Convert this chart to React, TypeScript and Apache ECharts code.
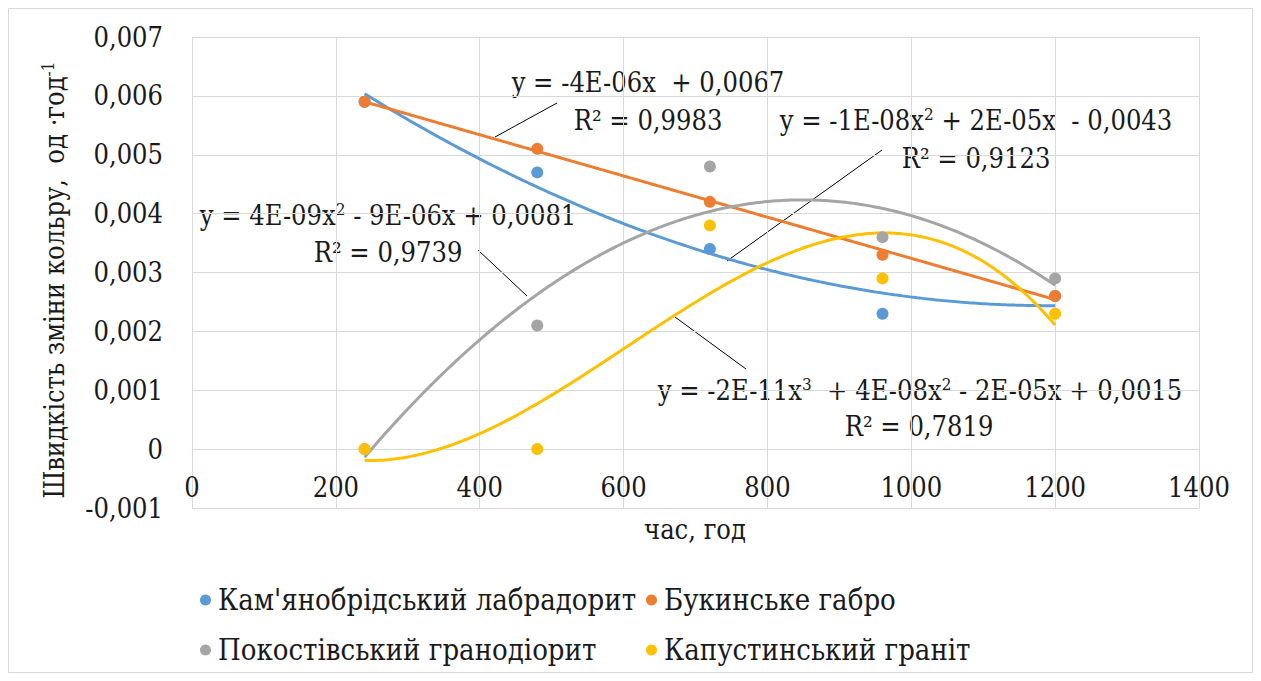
import React, { useEffect, useRef } from "react";
import * as echarts from "echarts";

// Exposure time, hours
const hours = [240, 480, 720, 960, 1200];

// Colour change rate, units per hour
const labradorite = [0.0059, 0.0047, 0.0034, 0.0023, 0.0026];
const gabbro = [0.0059, 0.0051, 0.0042, 0.0033, 0.0026];
const granodiorite = [0.0, 0.0021, 0.0048, 0.0036, 0.0029];
const granite = [0.0, 0.0, 0.0038, 0.0029, 0.0023];

const seriesNames = [
  "Кам'янобрідський лабрадорит",
  "Букинське габро",
  "Покостівський гранодіорит",
  "Капустинський граніт",
];
const seriesValues = [labradorite, gabbro, granodiorite, granite];
const seriesColors = ["#5B9BD5", "#ED7D31", "#A5A5A5", "#FFC000"];
// Polynomial order of each trendline
const trendOrders = [2, 1, 2, 3];

const xMin = 0;
const xMax = 1400;
const xStep = 200;
const yMin = -0.001;
const yMax = 0.007;
const yStep = 0.001;

const FONT = "DejaVu Serif Condensed, DejaVu Serif";
const FS = 27;
const FS_LEGEND = 29;
const INK = "#1a1a1a";

const GRID = { left: 192, right: 62, top: 37, bottom: 173 };
const CHART_H = 681;

// Least-squares polynomial fit; returns coefficients in powers of u = x / 1000
function polyFit(xs: number[], ys: number[], order: number): number[] {
  const n = order + 1;
  const A: number[][] = [];
  for (let r = 0; r < n; r++) {
    const row: number[] = [];
    for (let c = 0; c < n; c++) {
      let s = 0;
      xs.forEach((x) => (s += Math.pow(x / 1000, r + c)));
      row.push(s);
    }
    let b = 0;
    xs.forEach((x, i) => (b += ys[i] * Math.pow(x / 1000, r)));
    row.push(b);
    A.push(row);
  }
  for (let col = 0; col < n; col++) {
    let piv = col;
    for (let r = col + 1; r < n; r++) if (Math.abs(A[r][col]) > Math.abs(A[piv][col])) piv = r;
    [A[col], A[piv]] = [A[piv], A[col]];
    for (let r = 0; r < n; r++) {
      if (r === col) continue;
      const f = A[r][col] / A[col][col];
      for (let c = col; c <= n; c++) A[r][c] -= f * A[col][c];
    }
  }
  return A.map((row, i) => row[n] / row[i]);
}

function trendPoints(xs: number[], ys: number[], order: number): number[][] {
  const coef = polyFit(xs, ys, order);
  const pts: number[][] = [];
  const from = xs[0];
  const to = xs[xs.length - 1];
  for (let x = from; x <= to + 1e-9; x += 4) {
    const u = x / 1000;
    let y = 0;
    coef.forEach((c, k) => (y += c * Math.pow(u, k)));
    pts.push([x, y]);
  }
  return pts;
}

function fmtY(v: number): string {
  if (Math.abs(v) < 1e-12) return "0";
  return v.toFixed(3).replace(".", ",");
}

function fmtX(v: number): string {
  return String(Math.round(v));
}

const baseRich = {
  b: { fontSize: FS, fontFamily: FONT, fill: INK, lineHeight: 30 },
  sup: { fontSize: 17, fontFamily: FONT, fill: INK, verticalAlign: "top" as const, lineHeight: 30 },
};

function label(text: string, x: number, y: number) {
  return {
    type: "text",
    x,
    y,
    silent: true,
    style: {
      text,
      rich: baseRich,
      fontSize: FS,
      fontFamily: FONT,
      fill: INK,
      align: "center",
      verticalAlign: "middle",
    },
  };
}

function leader(x1: number, y1: number, x2: number, y2: number) {
  return {
    type: "line",
    silent: true,
    shape: { x1, y1, x2, y2 },
    style: { stroke: "#000000", lineWidth: 1 },
  };
}

export default function App() {
  const ref = useRef<HTMLDivElement>(null);

  useEffect(() => {
    if (!ref.current) return;
    const chart = echarts.init(ref.current, undefined, { renderer: "svg" });

    // The horizontal axis crosses the vertical one at zero
    const plotH = CHART_H - GRID.top - GRID.bottom;
    const zeroFromBottom = ((0 - yMin) / (yMax - yMin)) * plotH;

    const trendSeries = seriesValues.map((vals, i) => ({
      name: seriesNames[i] + " — тренд",
      type: "line",
      data: trendPoints(hours, vals, trendOrders[i]),
      showSymbol: false,
      smooth: false,
      silent: true,
      z: 2,
      lineStyle: { color: seriesColors[i], width: 3 },
      itemStyle: { color: seriesColors[i] },
    }));

    const pointSeries = seriesValues.map((vals, i) => ({
      name: seriesNames[i],
      type: "scatter",
      data: hours.map((h, k) => [h, vals[k]]),
      symbol: "circle",
      symbolSize: 12,
      z: 3,
      itemStyle: { color: seriesColors[i], opacity: 1 },
    }));

    const legendCommon = {
      orient: "vertical",
      top: 585,
      padding: 0,
      itemGap: 20,
      itemWidth: 11,
      itemHeight: 11,
      icon: "circle",
      textStyle: {
        fontSize: FS_LEGEND,
        fontFamily: FONT,
        color: INK,
        lineHeight: 30,
        padding: [0, 0, 0, 2],
      },
    };

    chart.setOption({
      animation: false,
      backgroundColor: "#ffffff",
      grid: { ...GRID, containLabel: false },
      xAxis: {
        type: "value",
        min: xMin,
        max: xMax,
        interval: xStep,
        offset: -zeroFromBottom,
        axisLine: { show: true, onZero: false, lineStyle: { color: "#d9d9d9", width: 1 } },
        axisTick: { show: false },
        axisLabel: { fontSize: FS, fontFamily: FONT, color: INK, margin: 25, formatter: fmtX },
        splitLine: { show: true, lineStyle: { color: "#d9d9d9", width: 1 } },
      },
      yAxis: {
        type: "value",
        min: yMin,
        max: yMax,
        interval: yStep,
        axisLine: { show: false },
        axisTick: { show: false },
        axisLabel: { fontSize: FS, fontFamily: FONT, color: INK, margin: 29, formatter: fmtY },
        splitLine: { show: true, lineStyle: { color: "#d9d9d9", width: 1 } },
      },
      legend: [
        { ...legendCommon, left: 200, data: [seriesNames[0], seriesNames[2]] },
        { ...legendCommon, left: 646, data: [seriesNames[1], seriesNames[3]] },
      ],
      graphic: [
        {
          type: "rect",
          silent: true,
          shape: { x: 8.5, y: 8.5, width: 1244, height: 664 },
          style: { fill: "none", stroke: "#d9d9d9", lineWidth: 1 },
        },
        {
          type: "text",
          x: 54,
          y: 280,
          rotation: Math.PI / 2,
          silent: true,
          style: {
            text: "{b|Швидкість зміни кольру,  од ·год}{sup|-1}",
            rich: baseRich,
            align: "center",
            verticalAlign: "middle",
          },
        },
        label("{b|час, год}", 695, 529),
        label("{b|y = -4E-06x  + 0,0067}", 648, 82),
        label("{b|R² = 0,9983}", 648, 120),
        label("{b|y = -1E-08x}{sup|2}{b| + 2E-05x  - 0,0043}", 976, 120),
        label("{b|R² = 0,9123}", 976, 158),
        label("{b|y = 4E-09x}{sup|2}{b| - 9E-06x + 0,0081}", 388, 215),
        label("{b|R² = 0,9739}", 388, 252),
        label("{b|y = -2E-11x}{sup|3}{b|  + 4E-08x}{sup|2}{b| - 2E-05x + 0,0015}", 920, 390),
        label("{b|R² = 0,7819}", 919, 426),
        leader(495, 137, 557, 103),
        leader(478, 250, 527, 296),
        leader(727, 261, 882, 150),
        leader(675, 317, 746, 369),
      ],
      series: [...trendSeries, ...pointSeries],
    });

    return () => chart.dispose();
  }, []);

  return (
    <div
      ref={ref}
      style={{ position: "absolute", left: 0, top: 0, width: 1261, height: 681 }}
    />
  );
}
